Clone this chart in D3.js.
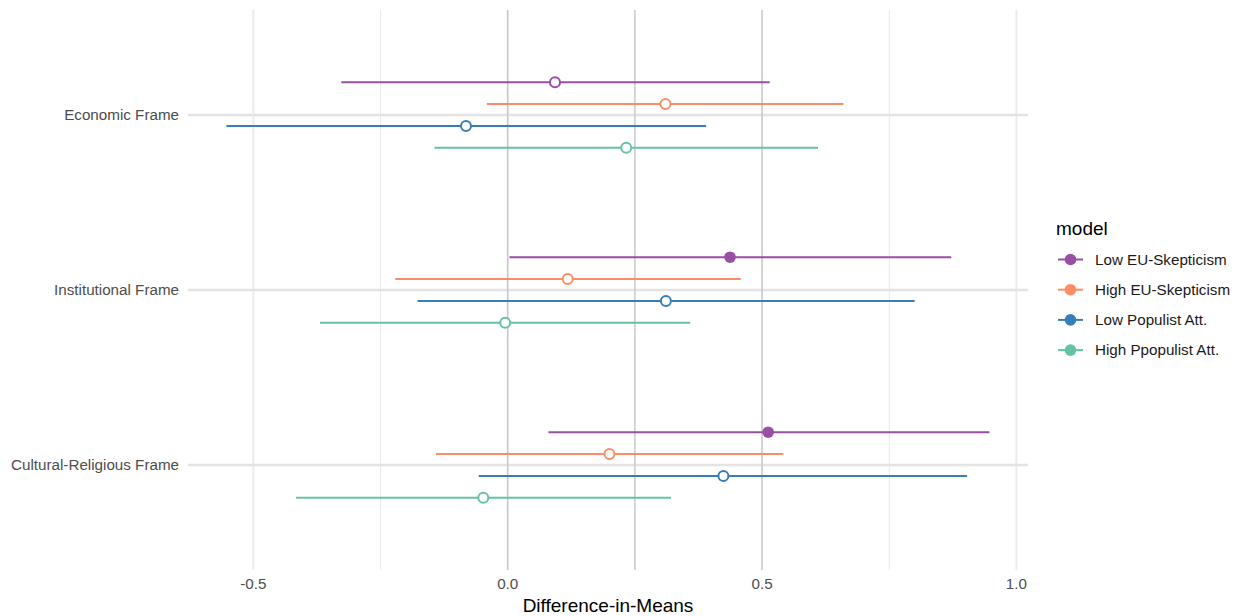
<!DOCTYPE html>
<html>
<head>
<meta charset="utf-8">
<script src="https://cdn.jsdelivr.net/npm/d3@7"></script>
<style>
  html, body { margin: 0; padding: 0; background: #fff; }
  svg { display: block; font-family: "Liberation Sans", Arial, sans-serif; }
</style>
</head>
<body>
<svg id="chart" width="1239" height="616"></svg>
<script>
// Frames shown on the y axis, top to bottom
const frames = ["Economic Frame", "Institutional Frame", "Cultural-Religious Frame"];
// Subgroup models, in dodge / legend order
const models = ["Low EU-Skepticism", "High EU-Skepticism", "Low Populist Att.", "High Ppopulist Att."];
const modelColors = ["#984ea3", "#fc8d62", "#377eb8", "#66c2a5"];

// Difference-in-means estimates, one array per model (order follows frames)
const lowEuEst      = [0.093, 0.437, 0.512];
const highEuEst     = [0.310, 0.118, 0.200];
const lowPopEst     = [-0.082, 0.311, 0.424];
const highPopEst    = [0.233, -0.005, -0.048];

// Lower confidence bounds
const lowEuLo       = [-0.327, 0.0035, 0.080];
const highEuLo      = [-0.041, -0.221, -0.141];
const lowPopLo      = [-0.553, -0.177, -0.057];
const highPopLo     = [-0.144, -0.369, -0.416];

// Upper confidence bounds
const lowEuHi       = [0.515, 0.872, 0.947];
const highEuHi      = [0.660, 0.458, 0.542];
const lowPopHi      = [0.390, 0.800, 0.903];
const highPopHi     = [0.610, 0.359, 0.321];

// x axis ticks
const xMajorTicks = [-0.5, 0, 0.5, 1.0];
const xMinorTicks = [-0.25, 0.25, 0.75];
const xTickLabels = ["-0.5", "0.0", "0.5", "1.0"];
const refLines = [0, 0.25, 0.5];

const estimates = [lowEuEst, highEuEst, lowPopEst, highPopEst];
const lowers = [lowEuLo, highEuLo, lowPopLo, highPopLo];
const uppers = [lowEuHi, highEuHi, lowPopHi, highPopHi];

const rows = [];
models.forEach((m, i) => {
  frames.forEach((f, j) => {
    rows.push({ model: m, frame: f, est: estimates[i][j], lo: lowers[i][j], hi: uppers[i][j] });
  });
});

const svg = d3.select("#chart");
const panel = { left: 188, right: 1028, top: 10, bottom: 570 };

const x = d3.scaleLinear().domain([-0.6285, 1.0228]).range([panel.left, panel.right]);
const y = d3.scalePoint().domain(frames).range([panel.top, panel.bottom]).padding(0.6);
const dodge = d3.scaleBand().domain(models).range([-43.75, 43.75]);
const color = d3.scaleOrdinal().domain(models).range(modelColors);

// Minor vertical grid
svg.append("g").selectAll("line").data(xMinorTicks).join("line")
  .attr("x1", d => x(d)).attr("x2", d => x(d))
  .attr("y1", panel.top).attr("y2", panel.bottom)
  .attr("stroke", "#ebebeb").attr("stroke-width", 1.1);

// Major vertical grid
svg.append("g").selectAll("line").data(xMajorTicks).join("line")
  .attr("x1", d => x(d)).attr("x2", d => x(d))
  .attr("y1", panel.top).attr("y2", panel.bottom)
  .attr("stroke", "#ebebeb").attr("stroke-width", 2);

// Horizontal grid at each frame
svg.append("g").selectAll("line").data(frames).join("line")
  .attr("x1", panel.left).attr("x2", panel.right)
  .attr("y1", d => y(d)).attr("y2", d => y(d))
  .attr("stroke", "#e3e3e3").attr("stroke-width", 2.4);

// Reference lines
svg.append("g").selectAll("line").data(refLines).join("line")
  .attr("x1", d => x(d)).attr("x2", d => x(d))
  .attr("y1", panel.top).attr("y2", panel.bottom)
  .attr("stroke", "#c6c6c6").attr("stroke-width", 1.3);

// Confidence intervals
const marks = svg.append("g");
marks.selectAll("line").data(rows).join("line")
  .attr("x1", d => x(d.lo)).attr("x2", d => x(d.hi))
  .attr("y1", d => y(d.frame) + dodge(d.model) + dodge.bandwidth() / 2)
  .attr("y2", d => y(d.frame) + dodge(d.model) + dodge.bandwidth() / 2)
  .attr("stroke", d => color(d.model)).attr("stroke-width", 2);

// Point estimates: filled when the interval excludes zero
marks.selectAll("circle").data(rows).join("circle")
  .attr("cx", d => x(d.est))
  .attr("cy", d => y(d.frame) + dodge(d.model) + dodge.bandwidth() / 2)
  .attr("r", d => (d.lo > 0 || d.hi < 0) ? 5.8 : 5)
  .attr("fill", d => (d.lo > 0 || d.hi < 0) ? color(d.model) : "#fff")
  .attr("stroke", d => (d.lo > 0 || d.hi < 0) ? "none" : color(d.model))
  .attr("stroke-width", 2);

// Y axis labels
svg.append("g").selectAll("text").data(frames).join("text")
  .attr("x", 179).attr("y", d => y(d)).attr("dy", "0.35em")
  .attr("text-anchor", "end").attr("fill", "#4d4d4d").attr("font-size", 15.2)
  .text(d => d);

// X axis labels
svg.append("g").selectAll("text").data(xMajorTicks).join("text")
  .attr("x", d => x(d)).attr("y", 589)
  .attr("text-anchor", "middle").attr("fill", "#4d4d4d").attr("font-size", 15.2)
  .text((d, i) => xTickLabels[i]);

svg.append("text")
  .attr("x", (panel.left + panel.right) / 2).attr("y", 612)
  .attr("text-anchor", "middle").attr("fill", "#000").attr("font-size", 19)
  .text("Difference-in-Means");

// Legend
const legend = svg.append("g").attr("transform", "translate(1056,0)");
legend.append("text").attr("x", 0).attr("y", 235)
  .attr("font-size", 19).attr("fill", "#000").text("model");
const item = legend.selectAll("g.item").data(models).join("g")
  .attr("class", "item")
  .attr("transform", (d, i) => `translate(0,${259.5 + i * 30.2})`);
item.append("line").attr("x1", 2).attr("x2", 27).attr("y1", 0).attr("y2", 0)
  .attr("stroke", d => color(d)).attr("stroke-width", 2);
item.append("circle").attr("cx", 14.5).attr("cy", 0).attr("r", 5.8)
  .attr("fill", d => color(d));
item.append("text").attr("x", 39).attr("y", 0).attr("dy", "0.35em")
  .attr("font-size", 15.2).attr("fill", "#1a1a1a").text(d => d);
</script>
</body>
</html>
